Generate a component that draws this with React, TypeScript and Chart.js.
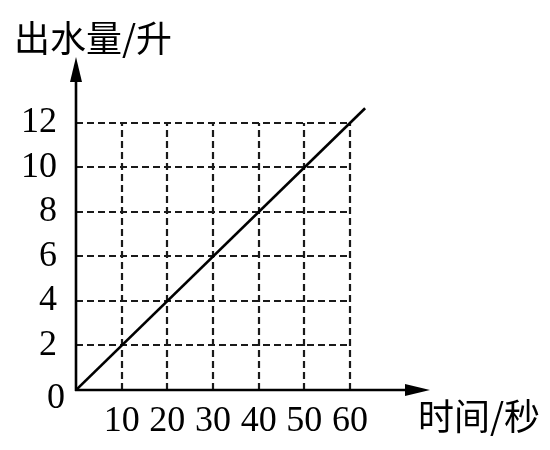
import React, { useEffect, useRef } from "react";
import { Chart, registerables } from "chart.js";

Chart.register(...registerables);

const lineX = [0, 63.3];
const lineY = [0, 12.66];
const xTicks = [10, 20, 30, 40, 50, 60];
const yTicks = [0, 2, 4, 6, 8, 10, 12];
const xTitle = "时间/秒";
const yTitle = "出水量/升";

const NUM_FONT = "'Liberation Serif', 'DejaVu Serif', serif";
const CJK_FONT = "'Noto Sans CJK SC', sans-serif";

const framePlugin = {
  id: "frame",
  beforeDatasetsDraw(chart: any) {
    const { ctx } = chart;
    const xs = chart.scales.x;
    const ys = chart.scales.y;
    const x0 = xs.getPixelForValue(0);
    const y0 = ys.getPixelForValue(0);
    const xEnd = xs.getPixelForValue(xTicks[xTicks.length - 1]);
    const yEnd = ys.getPixelForValue(yTicks[yTicks.length - 1]);
    ctx.save();
    ctx.strokeStyle = "#1a1a1a";
    ctx.lineWidth = 2.2;
    ctx.setLineDash([7, 4]);
    for (const v of xTicks) {
      const px = Math.round(xs.getPixelForValue(v));
      ctx.beginPath();
      ctx.moveTo(px, y0);
      ctx.lineTo(px, yEnd);
      ctx.stroke();
    }
    for (const v of yTicks) {
      if (v === 0) continue;
      const py = Math.round(ys.getPixelForValue(v));
      ctx.beginPath();
      ctx.moveTo(x0, py);
      ctx.lineTo(xEnd, py);
      ctx.stroke();
    }
    ctx.restore();
  },
  afterDraw(chart: any) {
    const { ctx, chartArea } = chart;
    const xs = chart.scales.x;
    const ys = chart.scales.y;
    const x0 = xs.getPixelForValue(0);
    const y0 = ys.getPixelForValue(0);
    ctx.save();
    ctx.strokeStyle = "#000";
    ctx.fillStyle = "#000";
    ctx.lineWidth = 2.6;
    ctx.setLineDash([]);
    // y axis
    const yTip = chartArea.top - 3;
    ctx.beginPath();
    ctx.moveTo(x0, y0 + 1);
    ctx.lineTo(x0, yTip + 12);
    ctx.stroke();
    ctx.beginPath();
    ctx.moveTo(x0, yTip);
    ctx.lineTo(x0 - 6, yTip + 25);
    ctx.lineTo(x0 + 6, yTip + 25);
    ctx.closePath();
    ctx.fill();
    // x axis
    const xTip = chartArea.right + 2;
    ctx.beginPath();
    ctx.moveTo(x0 - 1, y0);
    ctx.lineTo(xTip - 12, y0);
    ctx.stroke();
    ctx.beginPath();
    ctx.moveTo(xTip, y0);
    ctx.lineTo(xTip - 25, y0 - 6);
    ctx.lineTo(xTip - 25, y0 + 6);
    ctx.closePath();
    ctx.fill();
    // origin label (sits a little below the axis)
    ctx.font = `36px ${NUM_FONT}`;
    ctx.textAlign = "right";
    ctx.textBaseline = "middle";
    ctx.fillText(String(yTicks[0]), x0 - 11, y0 + 9);
    // titles
    ctx.font = `36px ${CJK_FONT}`;
    ctx.textBaseline = "middle";
    ctx.textAlign = "left";
    ctx.fillText(yTitle, 14, 38);
    ctx.fillText(xTitle, 418, 416);
    ctx.restore();
  },
};

export default function App() {
  const ref = useRef<HTMLCanvasElement | null>(null);
  useEffect(() => {
    if (!ref.current) return;
    const chart = new Chart(ref.current, {
      type: "scatter",
      data: {
        datasets: [
          {
            data: lineX.map((x, i) => ({ x, y: lineY[i] })),
            showLine: true,
            borderColor: "#000",
            borderWidth: 2.6,
            pointRadius: 0,
            fill: false,
          },
        ],
      },
      options: {
        animation: false,
        responsive: false,
        devicePixelRatio: 1,
        layout: { padding: { left: 0, right: 122, top: 60, bottom: 0 } },
        plugins: { legend: { display: false }, tooltip: { enabled: false } },
        scales: {
          x: {
            type: "linear",
            min: 0,
            max: 77.07,
            grid: { display: false },
            border: { display: false },
            afterBuildTicks: (s: any) => {
              s.ticks = xTicks.map((v) => ({ value: v }));
            },
            afterFit: (s: any) => {
              s.height = 60;
            },
            ticks: {
              color: "#000",
              padding: 2,
              maxRotation: 0,
              autoSkip: false,
              font: { family: NUM_FONT, size: 36 },
            },
          },
          y: {
            type: "linear",
            min: 0,
            max: 14.83,
            grid: { display: false },
            border: { display: false },
            afterBuildTicks: (s: any) => {
              s.ticks = yTicks.map((v) => ({ value: v }));
            },
            afterFit: (s: any) => {
              s.width = 76;
            },
            ticks: {
              color: "#000",
              padding: 11,
              autoSkip: false,
              font: { family: NUM_FONT, size: 36 },
              callback: (v: any) => (v === 0 ? "" : String(v)),
            },
          },
        },
      },
      plugins: [framePlugin],
    });
    return () => chart.destroy();
  }, []);
  return (
    <div style={{ position: "fixed", left: 0, top: 0, width: 550, height: 450, background: "#fff" }}>
      <canvas ref={ref} width={550} height={450} />
    </div>
  );
}
